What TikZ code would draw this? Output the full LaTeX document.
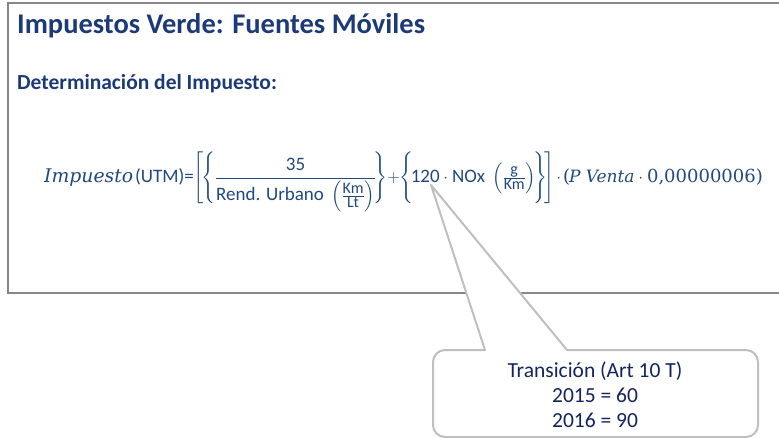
\documentclass[tikz,border=0pt]{standalone}
\usepackage{amsmath}
\usepackage{fontspec}
\setmainfont{Carlito}
\newfontfamily\mathserif{DejaVu Serif}
\usetikzlibrary{positioning,calc}
\definecolor{titleblue}{RGB}{28,58,120}
\definecolor{formblue}{RGB}{31,73,125}
\definecolor{calltext}{RGB}{20,36,95}
\definecolor{framegray}{RGB}{135,135,135}
\definecolor{callgray}{RGB}{191,191,191}
\tikzset{font=\fontsize{19}{22}\selectfont}
\newcommand{\serifit}[2][18.8]{\mbox{\mathserif\fontsize{#1}{22}\selectfont\itshape #2}}
\newcommand{\serifup}[1]{\mbox{\mathserif\fontsize{18}{22}\selectfont #1}}
\newcommand{\unitfrac}[2]{\frac{\mbox{\fontsize{16}{16}\selectfont #1}}{\mbox{\fontsize{16}{16}\selectfont #2}}}

\begin{document}
\begin{tikzpicture}[x=1pt,y=-1pt]
	\useasboundingbox (0,0) rectangle (779,438);
	\clip (0,0) rectangle (779,438);
	\begin{scope}
		\tikzstyle{every node}=[inner sep=0pt]
		\tikzstyle{heading}=[anchor=west, text=titleblue, font=\fontsize{28.5}{32}\selectfont\bfseries]
		\tikzstyle{subheading}=[anchor=west, text=titleblue, font=\fontsize{21.5}{25}\selectfont\bfseries]
		\tikzstyle{callout}=[draw=callgray, fill=white, line width=2pt, line join=round]

		% slide frame
		\draw[framegray, line width=2pt] (8,3) rectangle (800,293);

		\node[heading] (title) at (17,26) {Impuestos Verde: Fuentes Móviles};
		\node[subheading] (sub) at (17,84) {Determinación del Impuesto:};

		\node[anchor=west, text=formblue] (formula) at (44,182)
			{$\serifit{Impuesto}\mkern2mu\mbox{(UTM)=}\Biggl[\!\Biggl\{\dfrac{\mbox{35}}{\mbox{Rend. Urbano }\left(\unitfrac{Km}{Lt}\right)}\!\Biggr\}{+}\Biggl\{\!\mbox{120}\cdot\mbox{NOx }\left(\unitfrac{g}{Km}\right)\!\Biggr\}\!\Biggr]\mkern2mu{\cdot}\mkern2mu\serifup{(}\kern-1pt\serifit[17]{P Venta}\cdot\serifup{0,00000006)}$};

		% callout
		\coordinate (tip) at (431,185);
		\draw[callout] (567,350) [rounded corners=12pt] -- (758,350) -- (758,437)
			-- (433,437) -- (433,350) -- (470,350) [sharp corners] -- (485,350) -- (tip) -- cycle;
		\node[text=calltext, align=center, font=\fontsize{21.5}{25}\selectfont] (trans) at (595,395)
			{Transición (Art 10 T)\\2015 = 60\\2016 = 90};
	\end{scope}
\end{tikzpicture}
\end{document}
